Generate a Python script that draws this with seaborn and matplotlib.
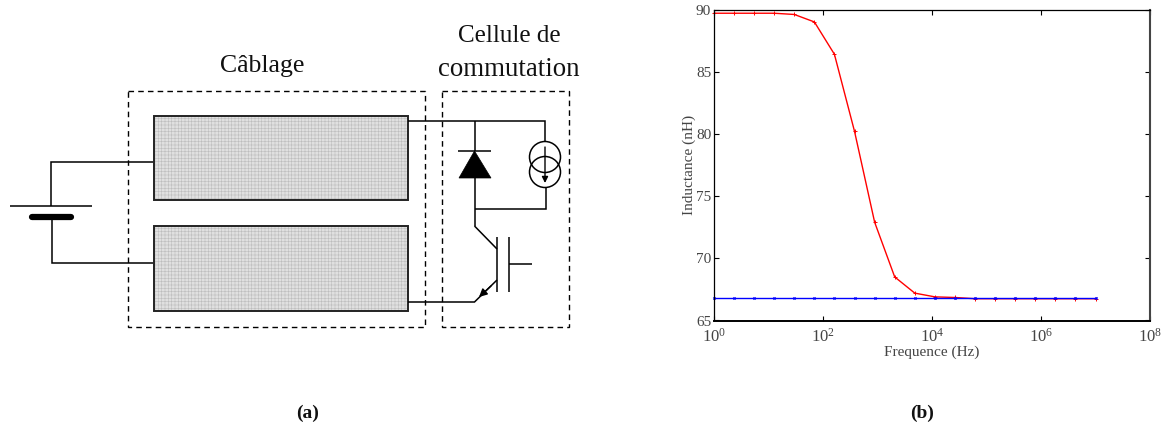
#!/usr/bin/env python3
# -*- coding: utf-8 -*-
import numpy as np
import pandas as pd
import seaborn as sns
import matplotlib
matplotlib.use('Agg')
import matplotlib.pyplot as plt
from matplotlib.patches import Rectangle, Circle, Polygon

freq = [1, 2.34, 5.46, 12.7, 29.8, 69.5, 162, 379, 886, 2069, 4833, 11288,
        26367, 61585, 143845, 335982, 784760, 1832981, 4281332, 10000000]
ind_red = [89.7, 89.7, 89.7, 89.7, 89.6, 89.0, 86.4, 80.2, 72.9, 68.5, 67.2, 66.9,
           66.85, 66.75, 66.75, 66.75, 66.75, 66.75, 66.75, 66.75]
ind_blue = [66.8] * 20
yticks = [65, 70, 75, 80, 85, 90]
xticks = [1e0, 1e2, 1e4, 1e6, 1e8]
xticklabels = ['$10^{0}$', '$10^{2}$', '$10^{4}$', '$10^{6}$', '$10^{8}$']

W, H = 1164, 430

sns.set_theme(style='white')
plt.rcParams['font.family'] = ['Liberation Serif', 'DejaVu Serif']
plt.rcParams['mathtext.fontset'] = 'custom'
plt.rcParams['mathtext.rm'] = 'Liberation Serif'
plt.rcParams['mathtext.it'] = 'Liberation Serif'
plt.rcParams['hatch.linewidth'] = 0.4

fig = plt.figure(figsize=(W / 100, H / 100), dpi=100, facecolor='white')

# diagram, in pixels of the picture
d = fig.add_axes([0, 0, 1, 1])
d.set_xlim(0, W)
d.set_ylim(H, 0)
d.axis('off')


def wire(xs, ys, lw=1.1):
    d.plot(xs, ys, color='black', lw=lw, solid_capstyle='butt', solid_joinstyle='miter')


# boxes
for x0, x1 in [(128, 425), (442, 569)]:
    d.add_patch(Rectangle((x0, 90.5), x1 - x0, 236.5, fill=False, ec='black', lw=1.0, ls=(0, (4, 3))))

# cable blocks
for y0, y1 in [(116, 200), (226, 311)]:
    d.add_patch(Rectangle((153.5, y0), 254.5, y1 - y0, fc='#e0e0e0', ec='#bdbdbd', hatch='+++++', lw=0))
    d.add_patch(Rectangle((153.5, y0), 254.5, y1 - y0, fill=False, ec='#222222', lw=1.4))

# battery
wire([153, 51, 51], [162, 162, 206])
wire([10, 92], [206, 206])
d.plot([32, 71], [217, 217], color='black', lw=4.5, solid_capstyle='round')
wire([51.5, 51.5, 153], [217, 263, 263])

# diode and current source
wire([408, 545, 545], [121, 121, 142])
wire([474.5, 474.5], [121, 151])
wire([458, 491], [151, 151])
d.add_patch(Polygon([(474.5, 151), (459, 178), (491, 178)], fc='black', ec='black', lw=0.5))
wire([474.5, 474.5], [178, 226])
wire([474.5, 546, 546], [209, 209, 188])
for cy in [157, 172]:
    d.add_patch(Circle((545, cy), 15.5, fill=False, ec='black', lw=1.1))
d.annotate('', xy=(545, 183), xytext=(545, 147),
           arrowprops=dict(arrowstyle='-|>', color='black', lw=1.0, mutation_scale=9, shrinkA=0, shrinkB=0))

# transistor
wire([474.5, 497], [226, 249])
wire([497, 497], [237, 292])
wire([509, 509], [237, 292])
wire([509, 532], [264, 264])
wire([408, 474.5, 497], [302, 302, 280])
d.annotate('', xy=(479, 297), xytext=(491, 286),
           arrowprops=dict(arrowstyle='-|>', color='black', lw=1.0, mutation_scale=12, shrinkA=0, shrinkB=0))

# labels
d.text(262, 66, 'Câblage', fontsize=18.5, ha='center', va='center', color='#111111')
d.text(509, 36, 'Cellule de', fontsize=18, ha='center', va='center', color='#111111')
d.text(509, 70, 'commutation', fontsize=19.4, ha='center', va='center', color='#111111')
d.text(308, 413.5, '(a)', fontsize=14, fontweight='bold', ha='center', va='center', color='#111111')
d.text(922, 413.5, '(b)', fontsize=14, fontweight='bold', ha='center', va='center', color='#111111')

# inductance plot
ax = fig.add_axes([714 / W, 1 - 320.5 / H, 436 / W, 311 / H])
df = pd.DataFrame({'freq': freq, 'red': ind_red, 'blue': ind_blue})
sns.lineplot(data=df, x='freq', y='red', ax=ax, color='#ff0000', lw=1.0, marker='+', ms=3, mew=0.7,
             mec='#ff0000', clip_on=False, errorbar=None)
sns.lineplot(data=df, x='freq', y='blue', ax=ax, color='#0000ff', lw=1.0, marker='x', ms=1.6, mew=0.8,
             mec='#0000ff', clip_on=False, errorbar=None)
ax.set_xscale('log')
ax.set_xlim(1, 1e8)
ax.set_ylim(65, 90)
ax.set_xticks(xticks)
ax.set_xticklabels(xticklabels)
ax.set_yticks(yticks)
ax.minorticks_off()
ax.tick_params(axis='y', which='major', direction='in', length=3.5, width=0.8, right=True, left=True,
               labelsize=11, labelcolor='#444444', color='black', pad=2)
ax.tick_params(axis='x', which='major', direction='in', length=3.5, width=0.8, top=True, bottom=True,
               labelsize=12, labelcolor='#444444', color='black', pad=5)
ax.set_xlabel('Frequence (Hz)', fontsize=11, color='#444444', labelpad=0)
ax.set_ylabel('Inductance (nH)', fontsize=11, color='#444444', labelpad=0)
for s in ax.spines.values():
    s.set_visible(True)
    s.set_color('black')
    s.set_linewidth(0.9)
ax.spines['bottom'].set_linewidth(1.4)
ax.spines['right'].set_linewidth(1.5)
ax.spines['right'].set_color('#444444')
ax.patch.set_alpha(0)

fig.savefig('out.png', dpi=100, facecolor='white')
